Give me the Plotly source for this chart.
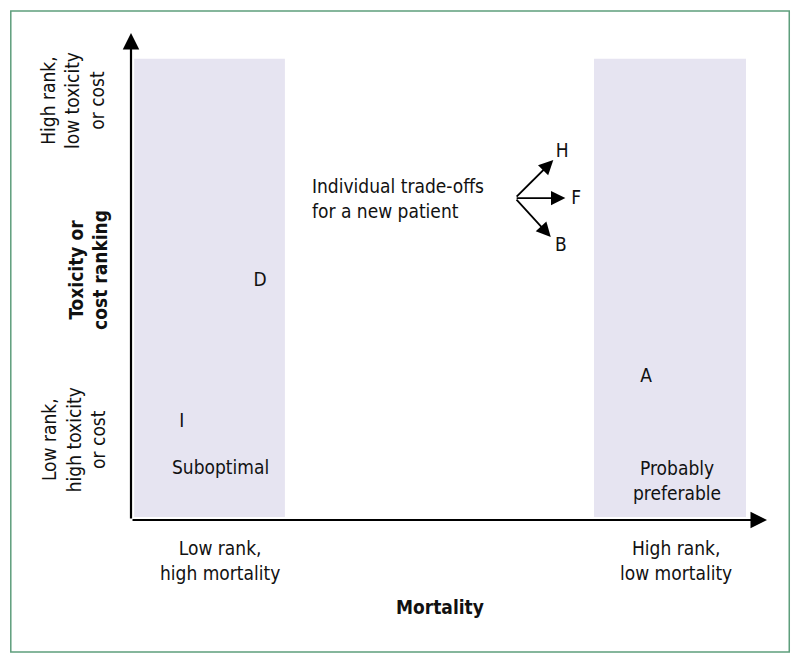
import plotly.graph_objects as go

# treatments placed on the mortality rank (x) / toxicity-cost rank (y) plane
letters = ["D", "I", "A", "H", "F", "B"]
letter_x = [2.03, 0.80, 8.10, 6.78, 7.00, 6.76]
letter_y = [4.91, 2.01, 2.94, 7.56, 6.59, 5.63]

# trade-off arrows for a new patient: start point and the three end points
arrow_start = (6.04, 6.61)
arrow_end_x = [6.64, 6.83, 6.60]
arrow_end_y = [7.39, 6.61, 5.81]

# shaded zones: suboptimal (left) and probably preferable (right)
zone_x0 = [0.05, 7.28]
zone_x1 = [2.42, 9.67]
zone_y0 = 0.06
zone_y1 = 9.47

FONT = "DejaVu Sans Condensed, Liberation Sans Narrow, Roboto, sans-serif"
TXT = dict(family=FONT, size=19, color="#111111")

fig = go.Figure()

for x0, x1 in zip(zone_x0, zone_x1):
    fig.add_shape(type="rect", x0=x0, x1=x1, y0=zone_y0, y1=zone_y1,
                  fillcolor="#e6e4f1", line_width=0, layer="below")

fig.add_trace(go.Scatter(
    x=letter_x, y=letter_y, text=letters, mode="text",
    textfont=TXT, textposition="middle center", hoverinfo="skip",
    showlegend=False, cliponaxis=False,
))

# axes drawn as arrows
fig.add_annotation(x=10, y=0, ax=0, ay=0, xref="x", yref="y", axref="x", ayref="y",
                   showarrow=True, arrowhead=2, arrowsize=1.5, arrowwidth=2.2,
                   arrowcolor="black", text="")
fig.add_annotation(x=0, y=10, ax=0, ay=0, xref="x", yref="y", axref="x", ayref="y",
                   showarrow=True, arrowhead=2, arrowsize=1.5, arrowwidth=2.2,
                   arrowcolor="black", text="")

for ex, ey in zip(arrow_end_x, arrow_end_y):
    fig.add_annotation(x=ex, y=ey, ax=arrow_start[0], ay=arrow_start[1],
                       xref="x", yref="y", axref="x", ayref="y",
                       showarrow=True, arrowhead=2, arrowsize=1.6, arrowwidth=1.8,
                       arrowcolor="black", text="")

# text labels, positions in the same 0-10 rank units (placed on paper so they
# still show outside the axis range)
labels = [
    ("Individual trade-offs<br>for a new patient", 2.81, 6.61, "left", 0),
    ("Suboptimal", 1.40, 1.09, "center", 0),
    ("Probably<br>preferable", 8.58, 0.82, "center", 0),
    ("Low rank,<br>high mortality", 1.40, -0.84, "center", 0),
    ("High rank,<br>low mortality", 8.57, -0.84, "center", 0),
    ("<b>Mortality</b>", 4.86, -1.79, "center", 0),
    ("High rank,<br>low toxicity<br>or cost", -0.93, 8.62, "center", -90),
    ("<b>Toxicity or<br>cost ranking</b>", -0.68, 5.13, "center", -90),
    ("Low rank,<br>high toxicity<br>or cost", -0.91, 1.64, "center", -90),
]
for txt, x, y, anchor, angle in labels:
    fig.add_annotation(x=x / 10, y=y / 10, xref="paper", yref="paper", text=txt,
                       showarrow=False, xanchor=anchor, yanchor="middle",
                       textangle=angle,
                       align="center" if anchor == "center" else "left",
                       font=TXT)

# green frame around the whole figure
fig.add_shape(type="rect", xref="paper", yref="paper",
              x0=-0.189, x1=1.035, y0=-0.271, y1=1.045,
              line=dict(color="#5e9e7c", width=1.5), fillcolor="rgba(0,0,0,0)")

fig.update_xaxes(range=[0, 10], visible=False)
fig.update_yaxes(range=[0, 10], visible=False)
fig.update_layout(
    width=792, height=655,
    margin=dict(l=123, r=33, t=25, b=143),
    plot_bgcolor="white", paper_bgcolor="white",
    font=TXT, showlegend=False,
)

fig.write_html("out.html")
